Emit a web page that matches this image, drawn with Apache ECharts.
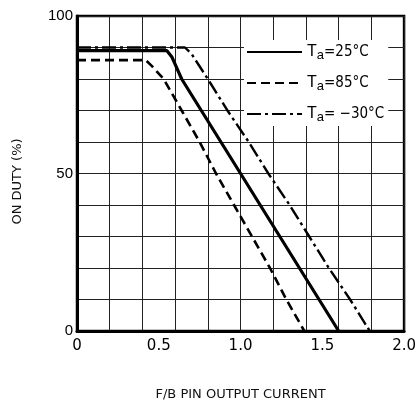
<!DOCTYPE html>
<html>
<head>
<meta charset="utf-8">
<script src="https://cdn.jsdelivr.net/npm/echarts@6/dist/echarts.min.js"></script>
<style>html,body{margin:0;padding:0;background:#fff;}#c{width:419px;height:406px;}</style>
</head>
<body>
<div id="c"></div>
<script>
// ---- data ----
const seriesNames = ['25', '85', '-30'];
const ta25X  = [0, 0.55, 0.58, 0.64, 0.76, 0.88, 1.00, 1.12, 1.24, 1.36, 1.48, 1.60];
const ta25Y  = [89, 89, 87, 80, 70, 60, 50, 40, 30, 20, 10, 0];
const ta85X  = [0, 0.42, 0.46, 0.53, 0.64, 0.75, 0.85, 0.96, 1.07, 1.18, 1.28, 1.39];
const ta85Y  = [86, 86, 84, 80, 70, 60, 50, 40, 30, 20, 10, 0];
const taM30X = [0, 0.66, 0.70, 0.80, 0.92, 1.05, 1.17, 1.30, 1.42, 1.54, 1.67, 1.79];
const taM30Y = [90, 90, 88, 80, 70, 60, 50, 40, 30, 20, 10, 0];
const xTickLabels = ['0', '0.5', '1.0', '1.5', '2.0'];
const yTickLabels = ['0', '50', '100'];
const xAxisTitle = 'F/B PIN OUTPUT CURRENT';
const yAxisTitle = 'ON DUTY (%)';

const zip = (xs, ys) => xs.map((x, i) => [x, ys[i]]);
const legendRich = {
  T: {fontSize: 16, fontFamily: 'Liberation Sans, Arial, sans-serif', color: '#000', lineHeight: 18},
  a: {fontSize: 13, fontFamily: 'Liberation Sans, Arial, sans-serif', color: '#000', padding: [7, 0, 0, 0], lineHeight: 18},
  r: {fontSize: 15, fontFamily: 'Liberation Sans Narrow, DejaVu Sans Condensed, Arial, sans-serif', color: '#000', lineHeight: 18}
};
const legendText = {'25': '=25°C', '85': '=85°C', '-30': '= −30°C'};

const chart = echarts.init(document.getElementById('c'), null, {renderer: 'canvas'});
chart.setOption({
  animation: false,
  backgroundColor: '#fff',
  grid: {left: 77, right: 14, top: 16, bottom: 66, show: true, borderColor: '#000', borderWidth: 2.5, backgroundColor: 'transparent'},
  legend: {
    orient: 'vertical', left: 244, top: 40, itemWidth: 55, itemHeight: 14, itemGap: 11,
    backgroundColor: '#fff', padding: [2, 4, 2, 2],
    data: seriesNames,
    itemStyle: {opacity: 0},
    formatter: n => '{T|T}{a|a}{r|' + legendText[n] + '}',
    textStyle: {rich: legendRich}
  },
  xAxis: [
    {type: 'value', min: 0, max: 2, interval: 0.2, position: 'bottom',
     axisLine: {show: true, lineStyle: {color: '#000', width: 3}}, axisTick: {show: false}, axisLabel: {show: false},
     splitLine: {show: true, lineStyle: {color: '#222', width: 1}},
     name: xAxisTitle, nameLocation: 'middle', nameGap: 57,
     nameTextStyle: {fontSize: 13, color: '#111', fontFamily: 'DejaVu Sans, Arial, sans-serif'}},
    {type: 'value', min: 0, max: 2, interval: 0.5, position: 'bottom',
     axisLine: {show: false}, axisTick: {show: false}, splitLine: {show: false},
     axisLabel: {margin: 8, fontSize: 15, color: '#000', fontFamily: 'DejaVu Sans, Arial, sans-serif',
       formatter: v => xTickLabels[Math.round(v / 0.5)]}}
  ],
  yAxis: {
    type: 'value', min: 0, max: 100, interval: 10,
    axisLine: {show: true, lineStyle: {color: '#000', width: 3}}, axisTick: {show: false},
    splitLine: {show: true, lineStyle: {color: '#222', width: 1}},
    axisLabel: {margin: 4, fontSize: 15, color: '#000', fontFamily: 'Liberation Sans, Arial, sans-serif',
      formatter: v => (v % 50 === 0 ? yTickLabels[v / 50] : '')},
    name: yAxisTitle, nameLocation: 'middle', nameGap: 53,
    nameTextStyle: {fontSize: 13, color: '#111', fontFamily: 'DejaVu Sans, Arial, sans-serif', padding: [0, 0, 0, -16]}
  },
  series: [
    {name: '25', type: 'line', xAxisIndex: 0, data: zip(ta25X, ta25Y), symbol: 'none',
     lineStyle: {color: '#000', width: 3.2, type: 'solid'}, itemStyle: {color: '#000'}, z: 3},
    {name: '85', type: 'line', xAxisIndex: 0, data: zip(ta85X, ta85Y), symbol: 'none',
     lineStyle: {color: '#000', width: 2.6, type: [9, 5]}, itemStyle: {color: '#000'}, z: 3},
    {name: '-30', type: 'line', xAxisIndex: 0, data: zip(taM30X, taM30Y), symbol: 'none',
     lineStyle: {color: '#000', width: 2.4, type: [14, 4, 3, 4]}, itemStyle: {color: '#000'}, z: 3}
  ]
});
</script>
</body>
</html>
